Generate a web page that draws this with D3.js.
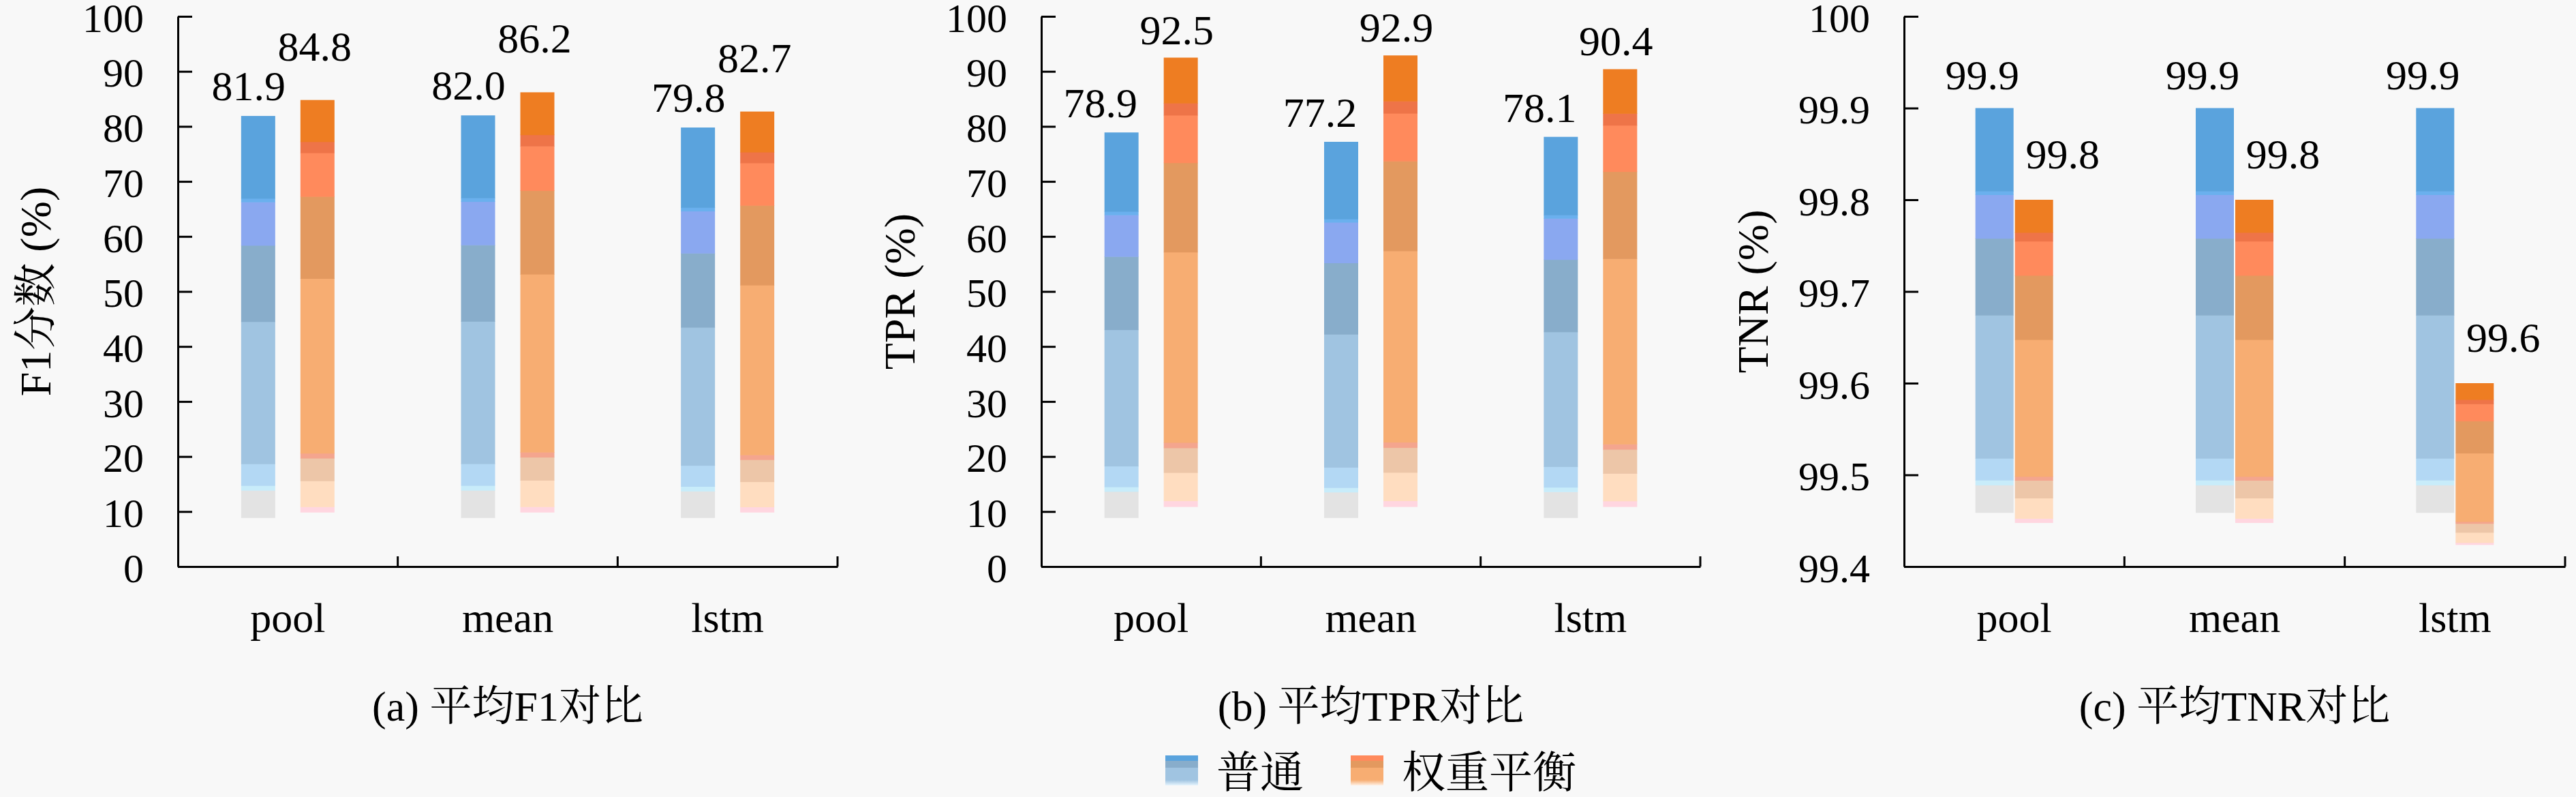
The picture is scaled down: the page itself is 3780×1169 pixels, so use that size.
<!DOCTYPE html>
<html>
<head>
<meta charset="utf-8">
<script src="https://cdn.jsdelivr.net/npm/d3@7"></script>
<style>
  body { margin: 0; background: #f8f8f8; }
  text { font-family: "Liberation Serif", "Noto Serif CJK SC", "Noto Sans CJK SC", serif; fill: #000; }
</style>
</head>
<body>
<script>
// data
const categories = ["pool", "mean", "lstm"];
const seriesNames = ["普通", "权重平衡"];

const f1Normal = [81.9, 82.0, 79.8];
const f1Balanced = [84.8, 86.2, 82.7];
const tprNormal = [78.9, 77.2, 78.1];
const tprBalanced = [92.5, 92.9, 90.4];
const tnrNormal = [99.9, 99.9, 99.9];
const tnrBalanced = [99.8, 99.8, 99.6];

// where the faded bottom of each bar ends
const f1FloorNormal = [8.9, 8.9, 8.9];
const f1FloorBalanced = [9.9, 9.9, 9.9];
const tprFloorNormal = [8.9, 8.9, 8.9];
const tprFloorBalanced = [10.9, 10.9, 10.9];
const tnrFloorNormal = [99.459, 99.459, 99.459];
const tnrFloorBalanced = [99.448, 99.448, 99.424];

const f1Ticks = d3.range(0, 101, 10);
const tprTicks = d3.range(0, 101, 10);
const tnrTicks = [99.4, 99.5, 99.6, 99.7, 99.8, 99.9, 100];

// colour bands of the bar fill, from bottom (0) to top (1)
const blueBands = [
  [0, 0.068, "#e3e3e3"], [0.068, 0.08, "#c8ecfa"], [0.08, 0.134, "#b3d8f4"],
  [0.134, 0.488, "#a0c4e1"], [0.488, 0.678, "#88adcb"], [0.678, 0.786, "#8aa8f0"],
  [0.786, 0.795, "#6ab0ee"], [0.795, 1, "#5aa3dd"]
];
const orangeBands = [
  [0, 0.013, "#ffd6e0"], [0.013, 0.076, "#ffddc0"], [0.076, 0.131, "#edc6a8"],
  [0.131, 0.143, "#f4a58e"], [0.143, 0.567, "#f7ad72"], [0.567, 0.766, "#e3995f"],
  [0.766, 0.872, "#ff8a5c"], [0.872, 0.899, "#ee7448"], [0.899, 1, "#ee7d22"]
];

const W = 3780, H = 1169;
const yTop = 24, yBottom = 831;
const fontSize = 60;

const panels = [
  { x0: 261, x1: 1229, domain: [0, 100], ticks: f1Ticks, fmt: d3.format("d"),
    title: "F1分数 (%)", titleX: 52, caption: "(a) 平均F1对比",
    values: [f1Normal, f1Balanced], floors: [f1FloorNormal, f1FloorBalanced],
    barW: 50, gap: 37, labelDx: [-14, -4], labelGap: [23, 58] },
  { x0: 1528, x1: 2495, domain: [0, 100], ticks: tprTicks, fmt: d3.format("d"),
    title: "TPR (%)", titleX: 1320, caption: "(b) 平均TPR对比",
    values: [tprNormal, tprBalanced], floors: [tprFloorNormal, tprFloorBalanced],
    barW: 50, gap: 37, labelDx: [-31, -6], labelGap: [22, 20] },
  { x0: 2794, x1: 3764, domain: [99.4, 100], ticks: tnrTicks, fmt: d => d === 100 ? "100" : d.toFixed(1),
    title: "TNR (%)", titleX: 2572, caption: "(c) 平均TNR对比",
    values: [tnrNormal, tnrBalanced], floors: [tnrFloorNormal, tnrFloorBalanced],
    barW: 56, gap: 2, labelDx: [-18, 42], labelGap: [28, 46] }
];

const svg = d3.select("body").append("svg")
    .attr("width", W)
    .attr("height", H);

svg.append("rect").attr("width", W).attr("height", H).attr("fill", "#f8f8f8");

panels.forEach(p => {
  const g = svg.append("g");
  const x = d3.scaleBand().domain(categories).range([p.x0, p.x1]);
  const xs = d3.scaleBand().domain([0, 1])
      .range([-(p.barW + p.gap / 2), p.barW + p.gap / 2])
      .paddingInner(p.gap / (p.barW + p.gap));
  const y = d3.scaleLinear().domain(p.domain).range([yBottom, yTop]);

  // bars built from colour bands
  const bars = [];
  [0, 1].forEach(s => {
    categories.forEach((c, i) => {
      bars.push({ s, c, value: p.values[s][i], floor: p.floors[s][i] });
    });
  });
  const segs = [];
  bars.forEach(b => {
    const bands = b.s === 0 ? blueBands : orangeBands;
    bands.forEach(([f0, f1, col]) => {
      segs.push({ ...b, lo: b.floor + f0 * (b.value - b.floor), hi: b.floor + f1 * (b.value - b.floor), col });
    });
  });

  g.selectAll("rect.seg").data(segs).join("rect")
      .attr("class", "seg")
      .attr("x", d => x(d.c) + x.bandwidth() / 2 + xs(d.s))
      .attr("width", xs.bandwidth())
      .attr("y", d => y(d.hi))
      .attr("height", d => y(d.lo) - y(d.hi) + 0.6)
      .attr("fill", d => d.col);

  // value labels
  g.selectAll("text.val").data(bars).join("text")
      .attr("class", "val")
      .attr("x", d => x(d.c) + x.bandwidth() / 2 + xs(d.s) + xs.bandwidth() / 2 + p.labelDx[d.s])
      .attr("y", d => y(d.value) - p.labelGap[d.s])
      .attr("text-anchor", "middle")
      .style("font-size", "62px")
      .text(d => d.value.toFixed(1));

  // y axis, ticks pointing inward
  const ya = g.append("g")
      .attr("transform", `translate(${p.x0},0)`)
      .call(d3.axisLeft(y).tickValues(p.ticks).tickFormat(p.fmt)
        .tickSizeInner(-21).tickSizeOuter(0).tickPadding(50));
  ya.selectAll("path, line").attr("stroke", "#000").attr("stroke-width", 3);
  ya.selectAll("text").style("font-size", fontSize + "px").attr("dy", "0.37em");
  ya.attr("font-family", null).attr("font-size", null);

  // x axis
  const xa = g.append("g")
      .attr("transform", `translate(0,${yBottom})`)
      .call(d3.axisBottom(x).tickSize(0).tickSizeOuter(0));
  xa.selectAll("path").attr("stroke", "#000").attr("stroke-width", 3);
  xa.selectAll("text").style("font-size", "62px")
      .attr("y", 96).attr("dy", null);
  xa.attr("font-family", null).attr("font-size", null);

  // category separators
  g.selectAll("line.sep").data(categories).join("line")
      .attr("class", "sep")
      .attr("x1", c => x(c) + x.bandwidth())
      .attr("x2", c => x(c) + x.bandwidth())
      .attr("y1", yBottom)
      .attr("y2", yBottom - 15)
      .attr("stroke", "#000")
      .attr("stroke-width", 3);

  // y title
  g.append("text")
      .attr("transform", `translate(${p.titleX},${(yTop + yBottom) / 2}) rotate(-90)`)
      .attr("text-anchor", "middle")
      .attr("dy", "0.35em")
      .style("font-size", "64px")
      .text(p.title);

  // caption
  g.append("text")
      .attr("x", (p.x0 + p.x1) / 2)
      .attr("y", 1057)
      .attr("text-anchor", "middle")
      .style("font-size", "62px")
      .text(p.caption);
});

// legend
const defs = svg.append("defs");
const legendGrads = [
  [["0", "#5aa3dd"], ["0.18", "#5aa3dd"], ["0.18", "#88adcb"], ["0.42", "#88adcb"],
   ["0.42", "#a0c4e1"], ["0.82", "#a0c4e1"], ["1", "#e6f4fd"]],
  [["0", "#ff8a5c"], ["0.18", "#ff8a5c"], ["0.18", "#e3995f"], ["0.42", "#e3995f"],
   ["0.42", "#f7ad72"], ["0.82", "#f7ad72"], ["1", "#fff0e4"]]
];
legendGrads.forEach((stops, i) => {
  const lg = defs.append("linearGradient").attr("id", "lg" + i)
      .attr("x1", 0).attr("x2", 0).attr("y1", 0).attr("y2", 1);
  stops.forEach(([o, c]) => lg.append("stop").attr("offset", o).attr("stop-color", c));
});

const legend = svg.append("g");
const items = legend.selectAll("g").data(seriesNames).join("g");
items.append("rect")
    .attr("width", 48).attr("height", 44)
    .attr("y", 1108)
    .attr("fill", (d, i) => `url(#lg${i})`);
items.append("text")
    .attr("x", 75)
    .attr("y", 1155)
    .style("font-size", "64px")
    .text(d => d);

const widths = [];
items.each(function() {
  widths.push(75 + d3.select(this).select("text").node().getComputedTextLength());
});
const totalW = d3.sum(widths) + 69 * (widths.length - 1);
const centerX = (panels[1].x0 + panels[1].x1) / 2;
let startX = centerX - totalW / 2;
items.attr("transform", (d, i) => {
  const tx = startX;
  startX += widths[i] + 69;
  return `translate(${tx},0)`;
});
</script>
</body>
</html>
